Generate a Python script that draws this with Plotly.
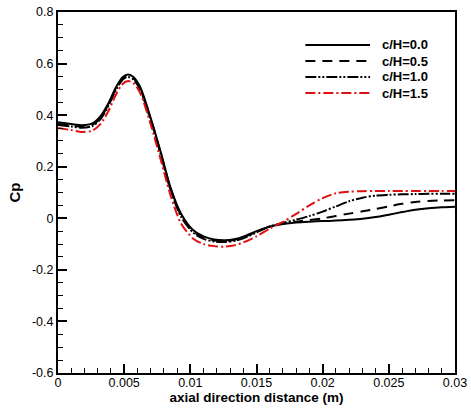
import plotly.graph_objects as go

# ---- data ----
x_m = [0, 0.001, 0.0018, 0.0026, 0.0032, 0.0038, 0.0044, 0.0049, 0.0053, 0.0057,
       0.0062, 0.007, 0.0078, 0.0085, 0.0093, 0.0102, 0.011, 0.0118, 0.0126, 0.0134,
       0.014, 0.015, 0.016, 0.017, 0.018, 0.019, 0.02, 0.021, 0.022, 0.023, 0.024,
       0.025, 0.026, 0.027, 0.028, 0.029, 0.03]

cp_00 = [0.372, 0.366, 0.361, 0.368, 0.395, 0.445, 0.51, 0.548, 0.558, 0.548,
         0.51, 0.39, 0.25, 0.12, 0.018, -0.045, -0.07, -0.082, -0.085, -0.08,
         -0.071, -0.05, -0.032, -0.022, -0.016, -0.013, -0.011, -0.009, -0.006, -0.002, 0.005,
         0.014, 0.024, 0.033, 0.039, 0.043, 0.045]

cp_05 = [0.366, 0.36, 0.355, 0.362, 0.389, 0.44, 0.505, 0.543, 0.553, 0.543,
         0.505, 0.385, 0.245, 0.115, 0.012, -0.05, -0.075, -0.086, -0.088, -0.083,
         -0.074, -0.052, -0.032, -0.02, -0.013, -0.007, 0.0, 0.009, 0.018, 0.027, 0.036,
         0.046, 0.056, 0.063, 0.067, 0.069, 0.07]

cp_10 = [0.362, 0.356, 0.351, 0.358, 0.384, 0.435, 0.5, 0.538, 0.548, 0.538,
         0.5, 0.38, 0.24, 0.11, 0.006, -0.055, -0.08, -0.09, -0.092, -0.087,
         -0.078, -0.055, -0.032, -0.018, -0.005, 0.009, 0.026, 0.046, 0.066, 0.08, 0.088,
         0.091, 0.093, 0.094, 0.095, 0.095, 0.095]

cp_15 = [0.35, 0.342, 0.335, 0.34, 0.365, 0.415, 0.482, 0.522, 0.532, 0.524,
         0.487, 0.365, 0.22, 0.09, -0.02, -0.078, -0.1, -0.108, -0.11, -0.104,
         -0.094, -0.07, -0.04, -0.014, 0.017, 0.05, 0.078, 0.097, 0.103, 0.105, 0.106,
         0.106, 0.106, 0.106, 0.106, 0.106, 0.106]

series_names = ["c/H=0.0", "c/H=0.5", "c/H=1.0", "c/H=1.5"]
series_values = [cp_00, cp_05, cp_10, cp_15]

x_tick_vals = [0, 0.005, 0.01, 0.015, 0.02, 0.025, 0.03]
x_tick_text = ["0", "0.005", "0.01", "0.015", "0.02", "0.025", "0.03"]
y_tick_vals = [-0.6, -0.4, -0.2, 0, 0.2, 0.4, 0.6, 0.8]
y_tick_text = ["-0.6", "-0.4", "-0.2", "0", "0.2", "0.4", "0.6", "0.8"]

# ---- styles ----
colors = ["black", "black", "black", "#e01010"]
dashes = ["solid", "10px,7px", "11px,2px,2px,2px,2px,2px", "10px,3px,2px,3px"]
FONT = "Liberation Sans, Arial, sans-serif"

fig = go.Figure()
for name, vals, c, d in zip(series_names, series_values, colors, dashes):
    fig.add_trace(go.Scatter(
        x=x_m, y=vals, mode="lines", name=name,
        line=dict(color=c, width=2, dash=d, shape="spline", smoothing=0.8),
        showlegend=False,
    ))

# custom legend (long line samples as in the reference)
leg_x0, leg_x1, leg_tx = 0.623, 0.786, 0.812
leg_y = [0.9086, 0.864, 0.82, 0.7756]
for name, c, d, yy in zip(series_names, colors, dashes, leg_y):
    fig.add_shape(type="line", xref="paper", yref="paper",
                  x0=leg_x0, x1=leg_x1, y0=yy, y1=yy,
                  line=dict(color=c, width=2, dash=d))
    fig.add_annotation(xref="paper", yref="paper", x=leg_tx, y=yy,
                       text="<b>%s</b>" % name, showarrow=False,
                       xanchor="left", yanchor="middle",
                       font=dict(family=FONT, size=13, color="black"))

axis_common = dict(
    showgrid=False, zeroline=False, showline=True, linecolor="black", linewidth=2,
    mirror=True, ticks="inside", ticklen=9, tickwidth=1.5, tickcolor="black",
    tickfont=dict(family=FONT, size=12.5, color="black"),
)

fig.update_xaxes(
    range=[0, 0.03], tickvals=x_tick_vals, ticktext=x_tick_text,
    ticklabelstandoff=-3,
    minor=dict(ticks="inside", ticklen=5, tickwidth=1, tickcolor="black", dtick=0.001,
               tick0=0, showgrid=False),
    title=dict(text="<b>axial direction distance (m)</b>", standoff=3,
               font=dict(family=FONT, size=13.5, color="black")),
    **axis_common,
)
fig.update_yaxes(
    range=[-0.6, 0.8], tickvals=y_tick_vals, ticktext=y_tick_text,
    minor=dict(ticks="inside", ticklen=5, tickwidth=1, tickcolor="black", dtick=0.05,
               tick0=0, showgrid=False),
    title=dict(text="<b>Cp</b>", standoff=8,
               font=dict(family=FONT, size=15, color="black")),
    **axis_common,
)

fig.update_layout(
    width=471, height=412,
    margin=dict(l=58, r=16, t=12, b=39, autoexpand=False),
    plot_bgcolor="white", paper_bgcolor="white",
    font=dict(family=FONT, color="black"),
)

fig.write_html("out.html", config={"displayModeBar": False},
               post_script="document.body.style.margin='0';document.body.style.overflow='hidden';")
